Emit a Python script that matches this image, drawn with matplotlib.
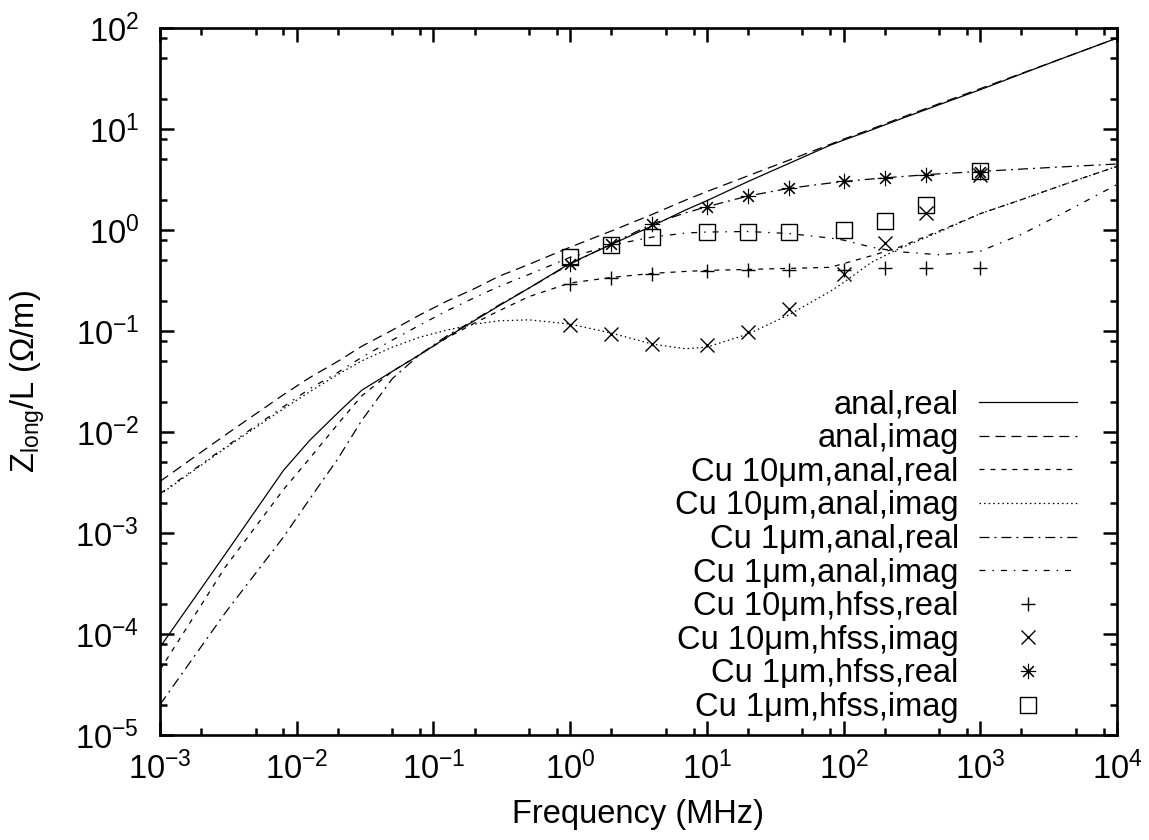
import numpy as np
import matplotlib
matplotlib.use('Agg')
import matplotlib.pyplot as plt
from matplotlib.path import Path
from matplotlib.ticker import FixedLocator, LogLocator, FuncFormatter, NullFormatter

# ---------------- data (frequency in MHz, impedance in Ohm/m) ----------------
freq_anal = [0.001, 0.003, 0.008, 0.0125, 0.02, 0.03, 0.05, 0.08, 0.125, 0.2,
             0.3, 0.5, 1, 2, 4, 7, 10, 20, 40, 80, 100, 160, 250, 500, 1000,
             2000, 4000, 10000]

anal_real = [7.41e-5, 6.17e-4, 4.17e-3, 8.32e-3, 1.55e-2, 2.60e-2, 3.98e-2,
             5.85e-2, 8.63e-2, 0.127, 0.177, 0.266, 0.468, 0.718, 1.10, 1.58,
             1.95, 3.02, 4.57, 6.92, 7.76, 9.77, 12.3, 17.4, 24.5, 35.1, 50.1,
             79.4]
anal_imag = [3.24e-3, 9.33e-3, 2.34e-2, 3.47e-2, 5.01e-2, 7.08e-2, 0.102,
             0.145, 0.197, 0.263, 0.347, 0.457, 0.676, 0.977, 1.43, 1.98, 2.40,
             3.44, 4.92, 7.05, 7.94, 10.0, 12.6, 17.8, 25.1, 35.5, 50.1, 79.4]
cu10_anal_real = [4.41e-5, 4.59e-4, 2.69e-3, 5.52e-3, 1.20e-2, 2.29e-2,
                  3.98e-2, 5.89e-2, 8.51e-2, 0.120, 0.158, 0.219, 0.299, 0.339,
                  0.372, 0.389, 0.398, 0.407, 0.417, 0.427, 0.465, 0.556,
                  0.668, 0.977, 1.45, 2.00, 2.79, 4.27]
cu10_anal_imag = [2.40e-3, 6.92e-3, 1.70e-2, 2.51e-2, 3.72e-2, 5.07e-2,
                  6.92e-2, 8.71e-2, 0.102, 0.117, 0.126, 0.129, 0.117, 0.0955,
                  0.0741, 0.0668, 0.0692, 0.0933, 0.145, 0.247, 0.302, 0.479,
                  0.646, 0.955, 1.45, 2.00, 2.79, 4.27]
cu1_anal_real = [2.00e-5, 1.62e-4, 9.12e-4, 2.19e-3, 5.44e-3, 1.31e-2,
                 3.37e-2, 5.89e-2, 8.91e-2, 0.129, 0.180, 0.266, 0.460, 0.729,
                 1.15, 1.48, 1.70, 2.17, 2.59, 2.92, 3.02, 3.20, 3.36, 3.60,
                 3.80, 4.01, 4.22, 4.50]
cu1_anal_imag = [2.45e-3, 7.08e-3, 1.78e-2, 2.69e-2, 3.89e-2, 5.50e-2,
                 8.13e-2, 0.115, 0.158, 0.214, 0.275, 0.363, 0.537, 0.708,
                 0.851, 0.933, 0.955, 0.966, 0.923, 0.832, 0.794, 0.676, 0.610,
                 0.569, 0.617, 0.906, 1.46, 2.82]

freq_hfss = [1, 2, 4, 10, 20, 40, 100, 200, 400, 1000]
cu10_hfss_real = [0.29, 0.335, 0.37, 0.39, 0.40, 0.40, 0.40, 0.42, 0.42, 0.42]
cu10_hfss_imag = [0.115, 0.093, 0.074, 0.072, 0.098, 0.164, 0.37, 0.74, 1.47, 3.5]
cu1_hfss_real = [0.46, 0.73, 1.15, 1.70, 2.17, 2.59, 3.03, 3.27, 3.53, 3.75]
cu1_hfss_imag = [0.545, 0.71, 0.86, 0.96, 0.96, 0.95, 0.99, 1.22, 1.78, 3.85]

labels = ['anal,real', 'anal,imag',
          'Cu 10\u03bcm,anal,real', 'Cu 10\u03bcm,anal,imag',
          'Cu 1\u03bcm,anal,real', 'Cu 1\u03bcm,anal,imag',
          'Cu 10\u03bcm,hfss,real', 'Cu 10\u03bcm,hfss,imag',
          'Cu 1\u03bcm,hfss,real', 'Cu 1\u03bcm,hfss,imag']

x_major = [1e-3, 1e-2, 1e-1, 1e0, 1e1, 1e2, 1e3, 1e4]
y_major = [1e-5, 1e-4, 1e-3, 1e-2, 1e-1, 1e0, 1e1, 1e2]

# ---------------- style ----------------
plt.rcParams['font.family'] = ['Liberation Sans', 'DejaVu Sans']
plt.rcParams['mathtext.fontset'] = 'custom'
plt.rcParams['mathtext.rm'] = 'Liberation Sans'
plt.rcParams['mathtext.it'] = 'Liberation Sans:italic'
plt.rcParams['mathtext.bf'] = 'Liberation Sans:bold'
plt.rcParams['mathtext.default'] = 'regular'
plt.rcParams['lines.scale_dashes'] = False

FS = 23.5
fig = plt.figure(figsize=(11.49, 8.40), dpi=100)
ax = fig.add_axes([160/1149, 1-735/840, (1117-160)/1149, (735-28)/840])

lw = 0.9
ax.plot(freq_anal, anal_real, color='black', lw=lw, ls='-', label=labels[0])
ax.plot(freq_anal, anal_imag, color='black', lw=lw, ls=(0, (7.2, 4.3)), label=labels[1])
ax.plot(freq_anal, cu10_anal_real, color='black', lw=lw, ls=(0, (3.6, 4.3)), label=labels[2])
ax.plot(freq_anal, cu10_anal_imag, color='black', lw=lw, ls=(0, (1.1, 2.2)), label=labels[3])
ax.plot(freq_anal, cu1_anal_real, color='black', lw=lw, ls=(0, (7.2, 3.6, 1.4, 3.6)), label=labels[4])
ax.plot(freq_anal, cu1_anal_imag, color='black', lw=lw, ls=(0, (4.3, 5.0, 1.1, 5.0)), label=labels[5])

sq = Path([(-1, -1), (1, -1), (1, 1), (-1, 1), (-1, -1),
           (-0.06, -0.06), (0.06, -0.06), (0.06, 0.06), (-0.06, 0.06), (-0.06, -0.06)],
          [Path.MOVETO, Path.LINETO, Path.LINETO, Path.LINETO, Path.CLOSEPOLY,
           Path.MOVETO, Path.LINETO, Path.LINETO, Path.LINETO, Path.CLOSEPOLY])
mk = dict(ls='none', color='black', mfc='none')
ax.plot(freq_hfss, cu10_hfss_real, marker='+', ms=10.5, mew=1.0, label=labels[6], **mk)
ax.plot(freq_hfss, cu10_hfss_imag, marker='x', ms=10.5, mew=1.0, label=labels[7], **mk)
ax.plot(freq_hfss, cu1_hfss_real, marker=(8, 2, 0), ms=11, mew=0.8, label=labels[8], **mk)
ax.plot(freq_hfss, cu1_hfss_imag, marker=sq, ms=11, mew=1.0, label=labels[9], **mk)

ax.set_xscale('log')
ax.set_yscale('log')
ax.set_xlim(1e-3, 1e4)
ax.set_ylim(1e-5, 1e2)

fmt = FuncFormatter(lambda v, p: '10$^{%d}$' % int(round(np.log10(v))))
ax.xaxis.set_major_locator(FixedLocator(x_major))
ax.yaxis.set_major_locator(FixedLocator(y_major))
for a in (ax.xaxis, ax.yaxis):
    a.set_minor_locator(LogLocator(base=10, subs=[2, 5, 8], numticks=20))
    a.set_minor_formatter(NullFormatter())
    a.set_major_formatter(fmt)

ax.tick_params(which='both', direction='in', top=True, right=True, width=1.8,
               labelsize=FS)
ax.tick_params(which='major', length=10)
ax.tick_params(which='minor', length=5)
ax.tick_params(axis='x', which='major', pad=12)
ax.tick_params(axis='y', which='major', pad=15)
for s in ax.spines.values():
    s.set_linewidth(1.9)

ax.set_xlabel('Frequency (MHz)', fontsize=FS)
ax.set_ylabel('Z$_{\\rm long}$/L (\u03a9/m)', fontsize=FS)
ax.xaxis.set_label_coords(0.5, -0.113)
ax.xaxis.label.set_va('center')
ax.yaxis.set_label_coords(-0.138, 0.5)
ax.yaxis.label.set_va('center')

leg = ax.legend(loc='lower right', bbox_to_anchor=(0.958, 0.017), frameon=False,
                markerfirst=False, fontsize=FS, borderpad=0, borderaxespad=0,
                handlelength=3.0, handletextpad=0.62, labelspacing=0.08,
                numpoints=1)

fig.savefig('out.png', dpi=100)
